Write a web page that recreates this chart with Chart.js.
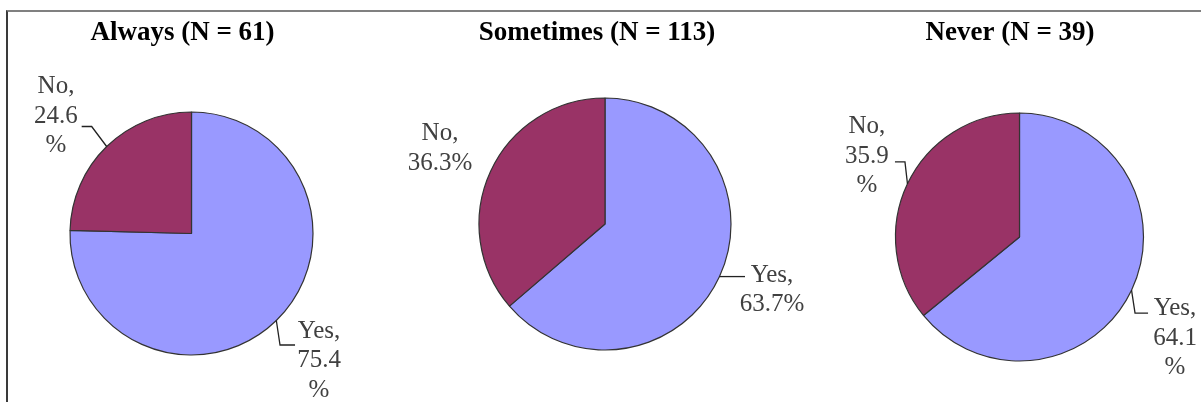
<!DOCTYPE html>
<html>
<head>
<meta charset="utf-8">
<script src="https://cdn.jsdelivr.net/npm/chart.js@4.4.1/dist/chart.umd.min.js"></script>
<style>
    html, body { margin: 0; padding: 0; background: #fff; }
    #wrap { position: relative; width: 1201px; height: 402px; overflow: hidden; }
    #frame { position: absolute; left: 6px; top: 10px; right: -10px; bottom: -10px;
             border-top: 2px solid #808080; border-left: 2px solid #3a3a3a; }
    .cell { position: absolute; top: 0; height: 402px; }
</style>
</head>
<body>
<div id="wrap">
    <div id="frame"></div>
    <div class="cell" style="left:0px"><canvas id="pie0" width="400" height="402"></canvas></div>
    <div class="cell" style="left:400px"><canvas id="pie1" width="430" height="402"></canvas></div>
    <div class="cell" style="left:800px"><canvas id="pie2" width="401" height="402"></canvas></div>
</div>
<script>
// ---- data ----
const panels = ['Always', 'Sometimes', 'Never'];
const sampleSizes = [61, 113, 39];
const answers = ['Yes', 'No'];
const yesPct = [75.4, 63.7, 64.1];
const noPct = [24.6, 36.3, 35.9];

// ---- styling ----
const colors = ['#9999FF', '#993366'];
const labelFont = '25px "Liberation Serif", "Times New Roman", serif';
const titleFont = 'bold 27px "Liberation Serif", "Times New Roman", serif';

// per panel: pie centre / radius, title x, and label placement relative to the slice's edge midpoint
const layouts = [
    { cx: 191.5, cy: 233.5, r: 121.5, titleX: 182.5, splitPct: true,
      slices: [
          { leader: [[3.7, 24.5], [18.7, 24.5]], dx: 42.7, dy: 17.5 },
          { leader: [[-15, -20], [-25, -20]], dx: -50.7, dy: -53.5 }
      ] },
    { cx: 205, cy: 224, r: 126, titleX: 197, splitPct: false,
      slices: [
          { leader: [[25.5, 0]], dx: 52.5, dy: 5.3 },
          { leader: [], dx: -50.5, dy: -31.3 }
      ] },
    { cx: 219.5, cy: 237, r: 124, titleX: 210, splitPct: true,
      slices: [
          { leader: [[3.5, 23], [16.5, 23]], dx: 43.5, dy: 25 },
          { leader: [[-2.5, -22], [-12.5, -22]], dx: -40.5, dy: -50.8 }
      ] }
];

const sliceLabels = {
    id: 'sliceLabels',
    afterDatasetsDraw(chart, args, opts) {
        const ctx = chart.ctx;
        const meta = chart.getDatasetMeta(0);
        const values = chart.data.datasets[0].data;
        ctx.save();
        // panel title
        ctx.font = titleFont;
        ctx.fillStyle = '#000';
        ctx.textAlign = 'center';
        ctx.textBaseline = 'alphabetic';
        ctx.fillText(opts.title, opts.titleX, 40);

        meta.data.forEach((arc, i) => {
            const p = arc.getProps(['x', 'y', 'startAngle', 'endAngle', 'outerRadius'], true);
            const mid = (p.startAngle + p.endAngle) / 2;
            const ex = p.x + Math.cos(mid) * p.outerRadius;
            const ey = p.y + Math.sin(mid) * p.outerRadius;
            const s = opts.slices[i];

            if (s.leader.length) {
                ctx.strokeStyle = '#222';
                ctx.lineWidth = 1.3;
                ctx.beginPath();
                ctx.moveTo(ex, ey);
                s.leader.forEach(([lx, ly]) => ctx.lineTo(ex + lx, ey + ly));
                ctx.stroke();
            }

            const v = values[i].toFixed(1);
            const lines = opts.splitPct
                ? [chart.data.labels[i] + ',', v, '%']
                : [chart.data.labels[i] + ',', v + '%'];
            ctx.font = labelFont;
            ctx.fillStyle = '#404040';
            ctx.textAlign = 'center';
            lines.forEach((t, k) => ctx.fillText(t, ex + s.dx, ey + s.dy + k * 29.5));
        });
        ctx.restore();
    }
};

panels.forEach((name, k) => {
    const L = layouts[k];
    const canvas = document.getElementById('pie' + k);
    const W = canvas.width, H = canvas.height;
    new Chart(canvas.getContext('2d'), {
        type: 'pie',
        data: {
            labels: answers,
            datasets: [{
                data: [yesPct[k], noPct[k]],
                backgroundColor: colors,
                borderColor: '#333333',
                borderWidth: 1.2
            }]
        },
        options: {
            responsive: false,
            animation: false,
            events: [],
            radius: L.r,
            layout: {
                padding: {
                    left: L.cx - L.r - 1,
                    right: W - (L.cx + L.r + 1),
                    top: L.cy - L.r - 1,
                    bottom: H - (L.cy + L.r + 1)
                }
            },
            plugins: {
                legend: { display: false },
                tooltip: { enabled: false },
                title: { display: false },
                sliceLabels: {
                    title: `${name} (N = ${sampleSizes[k]})`,
                    titleX: L.titleX,
                    splitPct: L.splitPct,
                    slices: L.slices
                }
            }
        },
        plugins: [sliceLabels]
    });
});
</script>
</body>
</html>
